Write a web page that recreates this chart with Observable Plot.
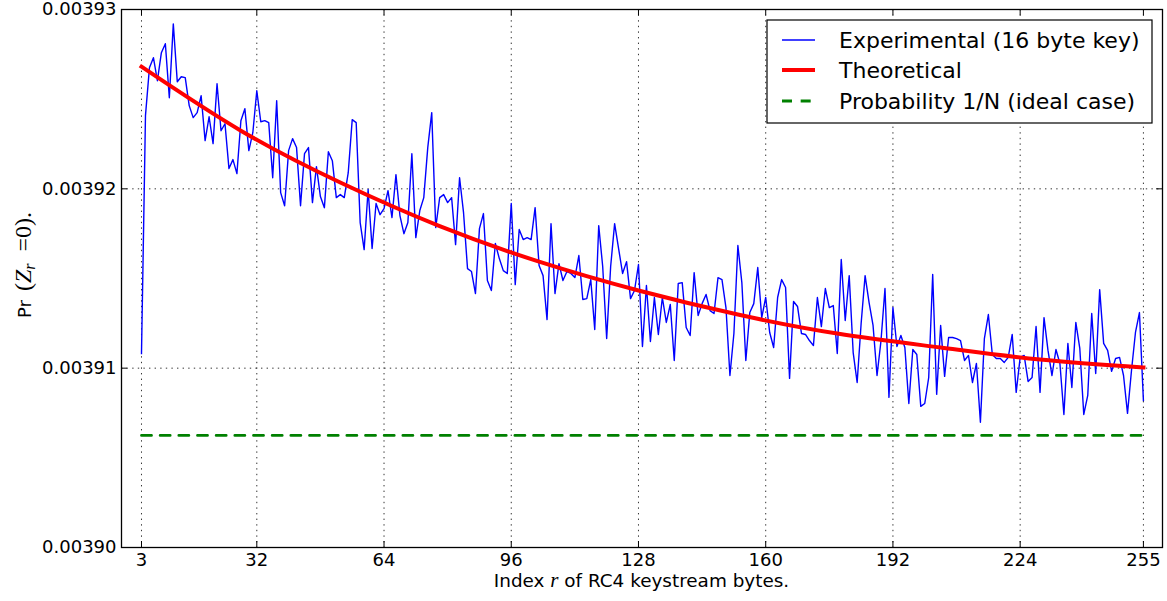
<!DOCTYPE html>
<html><head><meta charset="utf-8">
<script src="https://cdn.jsdelivr.net/npm/d3@7"></script>
<script src="https://cdn.jsdelivr.net/npm/@observablehq/plot@0.6"></script>
<style>
html,body{margin:0;padding:0;background:#fff;}
#chart{position:relative;width:1167px;height:601px;}
</style></head><body><div id="chart"></div>
<script>
// ---- data ----
const firstIndex = 3, lastIndex = 255;
const byteIndex = d3.range(firstIndex, lastIndex + 1);   // r = 3 .. 255
const experimental = [
  /*   3 */ 0.00391082, 0.00392408, 0.00392675, 0.00392731, 0.00392603, 0.00392759, 0.00392809, 0.00392508, 0.00392920, 0.00392597,
  /*  13 */ 0.00392625, 0.00392620, 0.00392464, 0.00392397, 0.00392425, 0.00392519, 0.00392269, 0.00392402, 0.00392252, 0.00392586,
  /*  23 */ 0.00392324, 0.00392363, 0.00392113, 0.00392163, 0.00392085, 0.00392380, 0.00392447, 0.00392213, 0.00392313, 0.00392547,
  /*  33 */ 0.00392374, 0.00392380, 0.00392369, 0.00392062, 0.00392491, 0.00391979, 0.00391906, 0.00392213, 0.00392280, 0.00392230,
  /*  43 */ 0.00391906, 0.00392196, 0.00392230, 0.00391923, 0.00392124, 0.00391957, 0.00391895, 0.00392207, 0.00392157, 0.00391951,
  /*  53 */ 0.00391968, 0.00391951, 0.00392090, 0.00392386, 0.00392369, 0.00391812, 0.00391661, 0.00391996, 0.00391667, 0.00391918,
  /*  63 */ 0.00391856, 0.00391890, 0.00391990, 0.00391840, 0.00392079, 0.00391851, 0.00391750, 0.00391812, 0.00392196, 0.00391728,
  /*  73 */ 0.00391879, 0.00391951, 0.00392230, 0.00392425, 0.00391784, 0.00391951, 0.00391968, 0.00391923, 0.00391951, 0.00391689,
  /*  83 */ 0.00392062, 0.00391867, 0.00391555, 0.00391539, 0.00391416, 0.00391778, 0.00391862, 0.00391489, 0.00391433, 0.00391695,
  /*  93 */ 0.00391611, 0.00391544, 0.00391528, 0.00391918, 0.00391466, 0.00391773, 0.00391717, 0.00391728, 0.00391717, 0.00391895,
  /* 103 */ 0.00391572, 0.00391516, 0.00391271, 0.00391806, 0.00391416, 0.00391583, 0.00391489, 0.00391539, 0.00391528, 0.00391505,
  /* 113 */ 0.00391628, 0.00391383, 0.00391388, 0.00391494, 0.00391216, 0.00391795, 0.00391567, 0.00391165, 0.00391567, 0.00391806,
  /* 123 */ 0.00391667, 0.00391528, 0.00391594, 0.00391388, 0.00391433, 0.00391578, 0.00391121, 0.00391461, 0.00391149, 0.00391394,
  /* 133 */ 0.00391188, 0.00391394, 0.00391255, 0.00391355, 0.00391043, 0.00391472, 0.00391477, 0.00391227, 0.00391182, 0.00391533,
  /* 143 */ 0.00391294, 0.00391360, 0.00391411, 0.00391321, 0.00391305, 0.00391505, 0.00391494, 0.00391338, 0.00390959, 0.00391193,
  /* 153 */ 0.00391684, 0.00391477, 0.00391043, 0.00391310, 0.00391360, 0.00391561, 0.00391282, 0.00391394, 0.00391199, 0.00391115,
  /* 163 */ 0.00391394, 0.00391494, 0.00391450, 0.00390943, 0.00391372, 0.00391344, 0.00391193, 0.00391188, 0.00391154, 0.00391126,
  /* 173 */ 0.00391394, 0.00391232, 0.00391444, 0.00391338, 0.00391349, 0.00391082, 0.00391606, 0.00391266, 0.00391516, 0.00391087,
  /* 183 */ 0.00390920, 0.00391249, 0.00391516, 0.00391366, 0.00391238, 0.00390959, 0.00391154, 0.00391444, 0.00390837, 0.00391338,
  /* 193 */ 0.00391121, 0.00391182, 0.00391115, 0.00390803, 0.00391104, 0.00391076, 0.00390787, 0.00390803, 0.00390948, 0.00391522,
  /* 203 */ 0.00390854, 0.00391238, 0.00390954, 0.00391171, 0.00391171, 0.00391165, 0.00391154, 0.00391043, 0.00391071, 0.00390920,
  /* 213 */ 0.00391026, 0.00390698, 0.00391165, 0.00391299, 0.00391076, 0.00391054, 0.00391054, 0.00391032, 0.00391060, 0.00391188,
  /* 223 */ 0.00390865, 0.00391060, 0.00391071, 0.00390926, 0.00390948, 0.00391232, 0.00390865, 0.00391282, 0.00391099, 0.00390959,
  /* 233 */ 0.00391104, 0.00391026, 0.00390742, 0.00391138, 0.00390892, 0.00391255, 0.00391110, 0.00390742, 0.00390848, 0.00391305,
  /* 243 */ 0.00390970, 0.00391438, 0.00391138, 0.00391099, 0.00390982, 0.00391054, 0.00391060, 0.00390959, 0.00390748, 0.00390987,
  /* 253 */ 0.00391199, 0.00391310, 0.00390820
];
const theoryIndex = [3, 28, 53, 78, 103, 128, 153, 178, 204, 229, 255];
const theoretical = [0.00392681, 0.00392324, 0.00392035, 0.00391792, 0.00391594, 0.00391433, 0.00391299, 0.00391193, 0.00391115, 0.00391048, 0.00391004];
const idealProbability = 0.00390625;   // 1/N, N = 256
const xTicks = [3, 32, 64, 96, 128, 160, 192, 224, 255];
const yTicks = [0.00390, 0.00391, 0.00392, 0.00393];
const seriesNames = ["Experimental (16 byte key)", "Theoretical", "Probability 1/N (ideal case)"];

// ---- layout ----
const W = 1167, H = 601;
const mL = 121, mR = 5, mT = 9, mB = 54;
const innerW = W - mL - mR, innerH = H - mT - mB;
const tickLen = 6;

const expData = byteIndex.map((r, i) => ({r, p: experimental[i]}));
const thData = theoryIndex.map((r, i) => ({r, p: theoretical[i]}));
const idealData = [{r: firstIndex, p: idealProbability}, {r: lastIndex, p: idealProbability}];

const gridStyle = {stroke: "black", strokeOpacity: 1, strokeWidth: 0.8, strokeDasharray: "1.4,4.2"};
const blueStyle = {stroke: "#0000ff", strokeWidth: 1.4};
const redStyle = {stroke: "#ff0000", strokeWidth: 4};
const greenStyle = {stroke: "#008000", strokeWidth: 2.8, dash: "10,8.67"};

const plot = Plot.plot({
  width: W, height: H,
  marginLeft: mL, marginRight: mR, marginTop: mT, marginBottom: mB,
  style: {fontFamily: "'DejaVu Sans', sans-serif", fontSize: "18px", background: "white", color: "black", overflow: "visible"},
  x: {domain: [-2.03, 259.8], label: null},
  y: {domain: [0.00390, 0.00393], label: null},
  marks: [
    Plot.gridX(xTicks, gridStyle),
    Plot.gridY(yTicks, gridStyle),
    Plot.line(idealData, {x: "r", y: "p", stroke: greenStyle.stroke, strokeWidth: greenStyle.strokeWidth, strokeDasharray: greenStyle.dash}),
    Plot.line(expData, {x: "r", y: "p", stroke: blueStyle.stroke, strokeWidth: blueStyle.strokeWidth, strokeLinecap: "square"}),
    Plot.line(thData, {x: "r", y: "p", stroke: redStyle.stroke, strokeWidth: redStyle.strokeWidth, curve: "natural", strokeLinecap: "square"}),
    // inward tick marks on all four sides
    Plot.ruleX(xTicks, {x: d => d, insetTop: innerH - tickLen, stroke: "black", strokeWidth: 1}),
    Plot.ruleX(xTicks, {x: d => d, insetBottom: innerH - tickLen, stroke: "black", strokeWidth: 1}),
    Plot.ruleY(yTicks, {y: d => d, insetRight: innerW - tickLen, stroke: "black", strokeWidth: 1}),
    Plot.ruleY(yTicks, {y: d => d, insetLeft: innerW - tickLen, stroke: "black", strokeWidth: 1}),
    Plot.axisX(xTicks, {tickSize: 0, tickPadding: 6, fontSize: 18, label: null}),
    Plot.axisY(yTicks, {tickSize: 0, tickPadding: 5, fontSize: 18, label: null, tickFormat: d => d.toFixed(5)}),
    Plot.frame({stroke: "black", strokeWidth: 1.3})
  ]
});
document.getElementById("chart").appendChild(plot);

// ---- axis titles (with math italics) ----
const svg = d3.select(plot);
const serif = "'Liberation Serif', 'DejaVu Serif', serif";
const xl = svg.append("text")
  .attr("x", mL + innerW / 2).attr("y", 587)
  .attr("text-anchor", "middle").attr("font-size", 18.4).attr("fill", "black")
  .style("white-space", "pre");
xl.append("tspan").text("Index ");
xl.append("tspan").attr("font-family", serif).attr("font-style", "italic").attr("font-size", 21).text("r");
xl.append("tspan").text(" of RC4 keystream bytes.");

const yl = svg.append("text")
  .attr("transform", `translate(31, 265) rotate(-90)`)
  .attr("text-anchor", "middle").attr("font-size", 18).attr("fill", "black")
  .style("white-space", "pre");
yl.append("tspan").text("Pr\u2002");
yl.append("tspan").attr("font-family", serif).attr("font-size", 24).text("(");
yl.append("tspan").attr("font-family", serif).attr("font-style", "italic").attr("font-size", 24).text("Z");
yl.append("tspan").attr("font-family", serif).attr("font-style", "italic").attr("font-size", 16).attr("dy", 4).text("r");
yl.append("tspan").attr("font-family", serif).attr("font-size", 24).attr("dy", -4).text("\u2002=0).");

// ---- legend ----
const lg = svg.append("g").attr("text-anchor", "start");
lg.append("rect").attr("x", 767).attr("y", 20).attr("width", 385).attr("height", 103)
  .attr("fill", "white").attr("stroke", "black").attr("stroke-width", 1.2);
const legendStyles = [blueStyle, redStyle, greenStyle];
const rowY = [40, 70, 101];
seriesNames.forEach((name, i) => {
  const s = legendStyles[i];
  lg.append("line").attr("x1", 782).attr("x2", 815).attr("y1", rowY[i]).attr("y2", rowY[i])
    .attr("stroke", s.stroke).attr("stroke-width", s.strokeWidth)
    .attr("stroke-dasharray", s.dash || null);
  lg.append("text").attr("x", 839).attr("y", rowY[i]).attr("dy", "0.36em")
    .attr("text-anchor", "start")
    .attr("font-size", 22).attr("fill", "black").text(name);
});
</script>
</body></html>
